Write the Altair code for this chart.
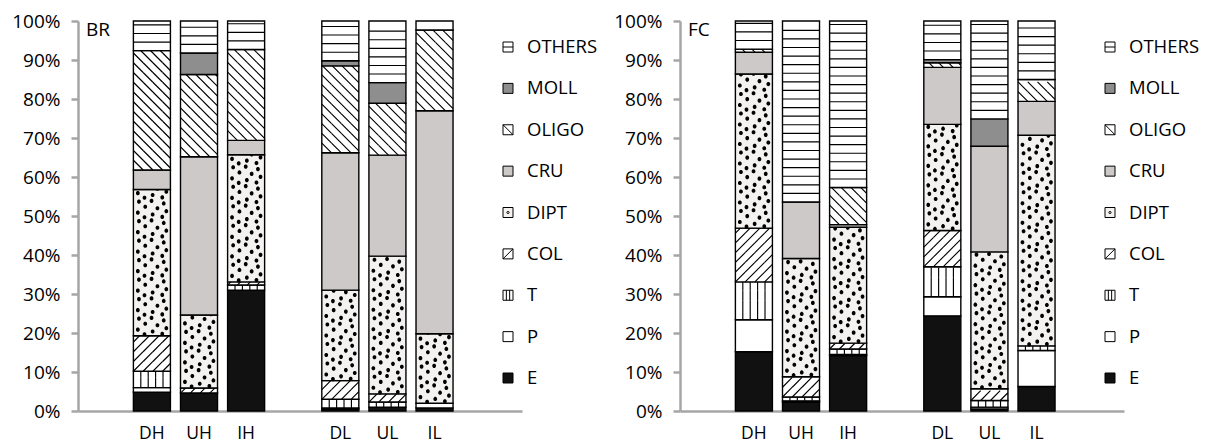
import altair as alt
import pandas as pd

# ------------------------------------------------------------------ data
SITES = ["DH", "UH", "IH", "DL", "UL", "IL"]
TAXA = ["E", "P", "T", "COL", "DIPT", "CRU", "OLIGO", "MOLL", "OTHERS"]  # bottom -> top
LEGEND_ORDER = TAXA[::-1]
X_DOMAIN = [" ", "DH", "UH", "IH", "  ", "DL", "UL", "IL", "   "]

# BR panel (% of each site)
BR_E = [4.8, 4.6, 31.0, 0.5, 1.0, 0.8]
BR_P = [1.2, 0.0, 0.0, 0.3, 0.0, 1.2]
BR_T = [4.2, 0.0, 1.3, 2.2, 1.3, 0.0]
BR_COL = [9.1, 1.3, 0.8, 4.8, 2.1, 0.0]
BR_DIPT = [37.5, 18.7, 32.6, 23.2, 35.3, 17.8]
BR_CRU = [5.0, 40.6, 3.7, 35.2, 25.9, 57.2]
BR_OLIGO = [30.6, 21.1, 23.3, 22.3, 13.3, 20.7]
BR_MOLL = [0.0, 5.5, 0.0, 1.3, 5.3, 0.0]
BR_OTHERS = [7.6, 8.2, 7.3, 10.2, 15.8, 2.3]

# FC panel (% of each site)
FC_E = [15.2, 2.3, 14.2, 24.4, 0.5, 6.3]
FC_P = [8.2, 0.3, 0.3, 4.9, 0.5, 9.2]
FC_T = [9.7, 1.0, 1.4, 7.7, 1.7, 1.2]
FC_COL = [13.8, 5.2, 1.5, 9.3, 3.0, 0.0]
FC_DIPT = [39.5, 30.3, 29.7, 27.2, 35.1, 54.0]
FC_CRU = [5.6, 14.5, 0.7, 14.6, 27.1, 8.7]
FC_OLIGO = [0.8, 0.0, 9.5, 1.2, 0.0, 5.6]
FC_MOLL = [0.0, 0.0, 0.0, 0.8, 7.0, 0.0]
FC_OTHERS = [7.2, 46.4, 42.7, 9.9, 25.1, 15.0]

BR_COLS = [BR_E, BR_P, BR_T, BR_COL, BR_DIPT, BR_CRU, BR_OLIGO, BR_MOLL, BR_OTHERS]
FC_COLS = [FC_E, FC_P, FC_T, FC_COL, FC_DIPT, FC_CRU, FC_OLIGO, FC_MOLL, FC_OTHERS]

# ------------------------------------------------------------------ style
FONT = "Open Sans"
GRAY = "#a6a6a6"
W, H = 444, 390
BAR_W = 37.0
PX_PER_PCT = H / 100.0
UNIT = BAR_W / 2.0  # custom symbol path unit (px) for size BAR_W**2

FILL = {
    "E": "#111111", "P": "#ffffff", "T": "#ffffff", "COL": "#ffffff",
    "DIPT": "#f4f2f1", "CRU": "#cdc9c9", "OLIGO": "#ffffff",
    "MOLL": "#8e8e8e", "OTHERS": "#ffffff",
}


def f(v):
    return f"{v:.3f}"


def diag_path(strip_pct, forward):
    h = strip_pct * PX_PER_PCT / UNIT
    d = h
    segs = []
    x = -1 - h
    while x < 1:
        t0 = max(0.0, (-1 - x) / h)
        t1 = min(1.0, (1 - x) / h)
        if t1 > t0:
            if forward:  # "/"
                p0 = (x + t0 * h, h / 2 - t0 * h)
                p1 = (x + t1 * h, h / 2 - t1 * h)
            else:  # "\"
                p0 = (x + t0 * h, -h / 2 + t0 * h)
                p1 = (x + t1 * h, -h / 2 + t1 * h)
            segs.append(f"M{f(p0[0])},{f(p0[1])}L{f(p1[0])},{f(p1[1])}")
        x += d
    return "".join(segs)


def vert_path(strip_pct):
    h = strip_pct * PX_PER_PCT / UNIT
    return "".join(f"M{f(x)},{f(-h/2)}L{f(x)},{f(h/2)}" for x in (-0.6, -0.2, 0.2, 0.6))


def dots_path(strip_pct):
    h = strip_pct * PX_PER_PCT / UNIT
    r = 1.9 / UNIT
    k = (h / 2) / 0.531
    pts = [(-0.70, -0.40), (-0.02, -0.44), (0.64, -0.30), (-0.36, -0.12), (0.30, -0.04),
           (0.78, 0.12), (-0.76, 0.20), (0.04, 0.30), (0.56, 0.43), (-0.40, 0.45)]
    out = []
    for x, y in pts:
        y = y * k
        out.append(f"M{f(x - r)},{f(y)}a{f(r)},{f(r)} 0 1,0 {f(2*r)},0a{f(r)},{f(r)} 0 1,0 {f(-2*r)},0Z")
    return "".join(out)


PATTERNS = {
    "T": dict(step=2.5, start=0.0, center=1.25, path=vert_path(2.5), filled=False),
    "COL": dict(step=2.5, start=0.0, center=1.25, path=diag_path(2.5, True), filled=False),
    "DIPT": dict(step=5.0, start=0.0, center=2.5, path=dots_path(5.0), filled=True),
    "OLIGO": dict(step=2.5, start=0.0, center=1.25, path=diag_path(2.5, False), filled=False),
    "OTHERS": dict(step=2.2, start=2.2, center=0.0, path="M-1,0L1,0", filled=False),
}

LEG_SHAPES = {
    "OTHERS": "M-1,0L1,0",
    "OLIGO": "M-1,-1L1,1",
    "DIPT": "M-0.22,0a0.22,0.22 0 1,0 0.44,0a0.22,0.22 0 1,0 -0.44,0Z",
    "COL": "M-1,1L1,-1",
    "T": "M-0.33,-1L-0.33,1M0.33,-1L0.33,1",
}

XSCALE = alt.Scale(domain=X_DOMAIN, paddingInner=0.214, paddingOuter=0.32, align=0.275)
XAXIS = alt.Axis(ticks=False, tickSize=0, domainColor=GRAY, domainWidth=2.5, labelPadding=13,
                 labelFont=FONT, labelFontSize=17.5, labelColor="black", labelAngle=0, title=None)
YAXIS = alt.Axis(values=list(range(0, 101, 10)), labelExpr="datum.value + '%'", grid=False,
                 domainColor=GRAY, domainWidth=2.5, tickColor=GRAY, tickWidth=2.5, tickSize=7,
                 labelPadding=11, labelFont=FONT, labelFontSize=19, labelColor="black",
                 labelFlush=False, labelOverlap=False, title=None)
YSCALE = alt.Scale(domain=[0, 100], nice=False, zero=True)


def panel_df(cols):
    rows = []
    for ti, (taxon, vals) in enumerate(zip(TAXA, cols)):
        for site, v in zip(SITES, vals):
            rows.append({"site": site, "taxon": taxon, "order": ti, "value": v})
    return pd.DataFrame(rows)


LEG_DF = pd.DataFrame({"taxon": LEGEND_ORDER})


def make_panel(cols, label):
    df = panel_df(cols)
    base = alt.Chart(df).transform_filter("datum.value > 0").transform_stack(
        stack="value", groupby=["site"], sort=[alt.SortField("order", order="ascending")],
        as_=["y0", "y1"])
    X = alt.X("site:N", scale=XSCALE, axis=XAXIS, title=None)

    def Y(field):
        return alt.Y(f"{field}:Q", scale=YSCALE, axis=YAXIS, title=None)

    layers = []
    for t in TAXA:
        sub = base.transform_filter(f"datum.taxon == '{t}'")
        layers.append(sub.mark_bar(fill=FILL[t], stroke="black", strokeWidth=1.4).encode(
            x=X, y=Y("y0"), y2="y1:Q"))
        if t in PATTERNS:
            p = PATTERNS[t]
            pat = (sub.transform_calculate(
                        strip=f"sequence(datum.y0 + {p['start']}, datum.y1 - 0.6, {p['step']})")
                   .transform_flatten(["strip"])
                   .transform_calculate(yc=f"datum.strip + {p['center']}")
                   .mark_point(shape=p["path"], size=BAR_W ** 2, filled=p["filled"], color="black",
                               strokeWidth=1.15, opacity=1, clip=True)
                   .encode(x=X, y=Y("yc")))
            layers.append(pat)

    leg = alt.Chart(LEG_DF)
    LY = alt.Y("taxon:N", scale=alt.Scale(domain=LEGEND_ORDER, range=[26, 357], padding=0), axis=None)
    sq = leg.mark_point(shape="square", size=100, filled=True, stroke="black", strokeWidth=1,
                        opacity=1).encode(
        x=alt.value(430), y=LY,
        fill=alt.Fill("taxon:N", scale=alt.Scale(domain=TAXA, range=[FILL[t] for t in TAXA]), legend=None))
    inner = leg.transform_filter(alt.FieldOneOfPredicate(field="taxon", oneOf=list(LEG_SHAPES))).mark_point(
        filled=False, size=100, color="black", strokeWidth=1, opacity=1).encode(
        x=alt.value(430), y=LY,
        shape=alt.Shape("taxon:N", scale=alt.Scale(domain=list(LEG_SHAPES), range=list(LEG_SHAPES.values())),
                        legend=None))
    txt = leg.mark_text(align="left", baseline="middle", font=FONT, fontSize=18.5, color="black").encode(
        x=alt.value(449), y=LY, text="taxon:N")
    lab = alt.Chart(pd.DataFrame({"panel": [label]})).mark_text(
        align="left", baseline="middle", font=FONT, fontSize=19, color="black").encode(
        x=alt.value(8), y=alt.value(9), text="panel:N")

    return alt.layer(alt.layer(*layers), alt.layer(sq, inner, txt, lab)).resolve_scale(
        y="independent").properties(width=W, height=H)


chart = alt.hconcat(make_panel(BR_COLS, "BR"), make_panel(FC_COLS, "FC"), spacing=158,
                    bounds="flush").configure_view(stroke=None).properties(
    padding={"left": 3, "top": 4, "right": 5, "bottom": 4})

chart.save("out.html", embed_options={"renderer": "svg", "actions": False})
